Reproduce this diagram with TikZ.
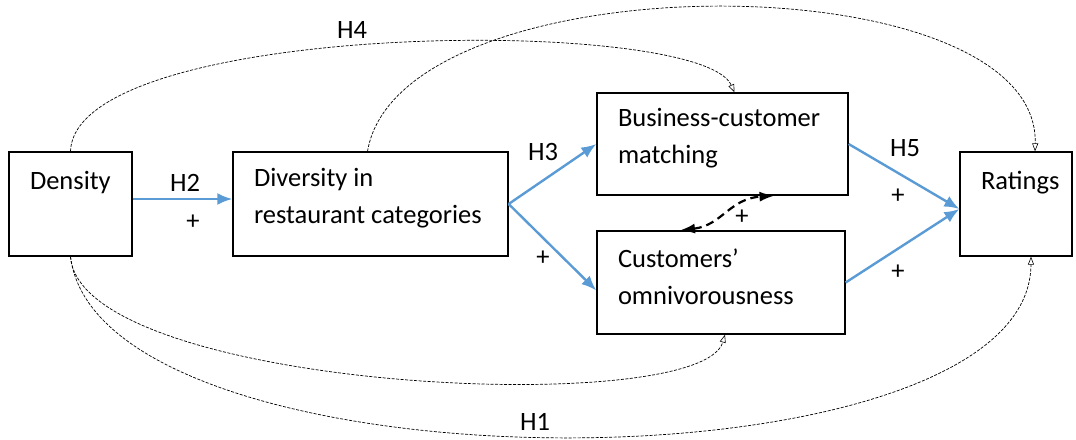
\documentclass[tikz,border=0pt]{standalone}
\usepackage{fontspec}
\setmainfont{Carlito}
\usepackage{xcolor}
\usepackage{tikz}
\usetikzlibrary{arrows.meta}
\definecolor{pathblue}{HTML}{5B9BD5}
\newcommand{\boxlines}[2]{\raisebox{5.5pt}[\height][\depth]{\parbox{#1}{\raggedright #2}}}

\begin{document}
\begin{tikzpicture}[x=1pt,y=1pt,
    every node/.style={font=\fontsize{26.5}{37}\selectfont},
    construct/.style={draw, line width=1.3pt, inner xsep=21pt, inner ysep=0pt},
    mainpath/.style={pathblue, line width=2.4pt, -{Latex[length=15pt,width=12pt]}},
    ctrlpath/.style={black, line width=0.7pt, dash pattern=on 3pt off 1.5pt, -{Triangle[open,length=8pt,width=6pt,line width=0.6pt]}},
    linkpath/.style={black, line width=2.2pt, dash pattern=on 8pt off 5pt, {Latex[length=15pt,width=10pt]}-{Latex[length=15pt,width=10pt]}}]
    \useasboundingbox (0,0) rectangle (1076,-439);
    % constructs
    \node[construct, minimum height=104pt] (density) at (70.5,-204) {\boxlines{81pt}{Density\\~}};
    \node[construct, minimum height=104pt] (diversity) at (370.5,-204) {\boxlines{233pt}{Diversity in\\restaurant categories}};
    \node[construct, minimum height=102pt] (matching) at (722.5,-144) {\boxlines{209pt}{Business-customer\\matching}};
    \node[construct, minimum height=103pt] (omni) at (721,-282.5) {\boxlines{206pt}{Customers'\\omnivorousness}};
    \node[construct, minimum height=104pt] (ratings) at (1016,-204) {\boxlines{70pt}{Ratings\\~}};
    % main paths
    \draw[mainpath] ([yshift=5pt]density.east) -- ([yshift=5pt]diversity.west);
    \draw[mainpath] (diversity.east) -- (matching.west);
    \draw[mainpath] (diversity.east) -- ([yshift=-8pt]omni.west);
    \draw[mainpath] (matching.east) -- ([yshift=-5pt]ratings.west);
    \draw[mainpath] (omni.east) -- ([yshift=-5pt]ratings.west);
    \draw[linkpath] ([xshift=-41pt]omni.north) .. controls +(42,5) and +(-45,-3) .. ([xshift=52pt]matching.south);
    % controls
    \draw[ctrlpath] (density.north) .. controls (75,-20) and (700,-15) .. ([xshift=12pt]matching.north);
    \draw[ctrlpath] ([xshift=-3pt]diversity.north) .. controls (400,41) and (1040,41) .. ([xshift=19pt]ratings.north);
    \draw[ctrlpath] (density.south) .. controls (80,-390) and (700,-420) .. ([xshift=4pt]omni.south);
    \draw[ctrlpath] (density.south) .. controls (100,-497) and (1030,-497) .. ([xshift=15pt]ratings.south);
    % labels
    \node (h2) at (185,-183) {H2};
    \node (p2) at (193,-222) {+};
    \node (h3) at (543,-152) {H3};
    \node (p3) at (543,-258) {+};
    \node (h5) at (905,-148) {H5};
    \node (p5a) at (898,-196) {+};
    \node (p5b) at (898,-272) {+};
    \node (plink) at (742,-217) {+};
    \node (h4) at (352,-30) {H4};
    \node (h1) at (535,-422) {H1};
\end{tikzpicture}
\end{document}
